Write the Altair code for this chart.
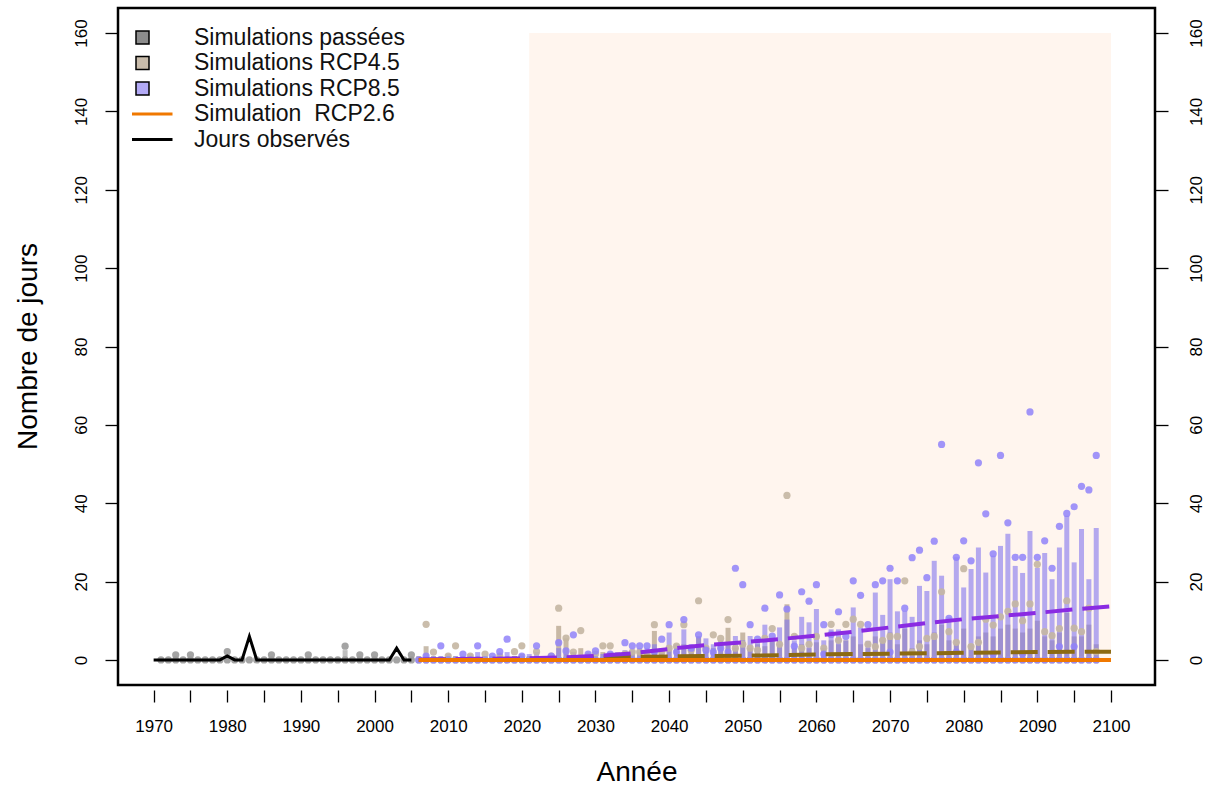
import altair as alt
import pandas as pd

# ---------------- data ----------------
obs_years = list(range(1970, 2006))
obs_vals = [0, 0, 0, 0, 0, 0, 0, 0, 0, 0,
            1, 0, 0, 6, 0, 0, 0, 0, 0, 0,
            0, 0, 0, 0, 0, 0, 0, 0, 0, 0,
            0, 0, 0, 3, 0, 0]

past_years = list(range(1971, 2006))
past_hi = [0.3, 0.3, 0.5, 0.3, 0.5, 0.2, 0.3, 0.2, 0.3, 1.2,
           0.3, 0.2, 0.3, 0.2, 0.3, 0.5, 0.2, 0.3, 0.2, 0.3,
           0.5, 0.2, 0.3, 0.2, 0.3, 2.5, 0.3, 0.8, 0.3, 0.8,
           0.3, 0.2, 0.3, 0.2, 0.5]
past_dot = [None, None, 1.3, None, 1.3, None, None, None, None, 2.1,
            None, None, None, None, None, 1.3, None, None, None, None,
            1.3, None, None, None, None, 3.5, None, 1.3, None, 1.3,
            None, None, None, None, 1.3]

fut_years = list(range(2006, 2099))
rcp85_hi = [0.5, 1.0, 0.5, 1.0, 1.5, 0.5, 1.0, 1.5, 2.0, 1.0,
            1.0, 1.5, 2.0, 1.0, 1.0, 1.5, 2.0, 1.0, 1.0, 3.0,
            1.5, 2.0, 1.0, 1.0, 1.5, 1.5, 2.0, 2.0, 2.5, 2.5,
            3.0, 3.0, 4.0, 3.0, 7.0, 4.0, 7.8, 4.0, 6.0, 5.5,
            4.0, 5.0, 4.5, 6.1, 5.0, 6.1, 5.0, 9.0, 5.5, 8.3,
            10.3, 5.0, 11.0, 9.6, 13.0, 5.0, 7.8, 7.8, 5.0, 13.4,
            8.3, 4.9, 17.2, 11.5, 20.6, 12.4, 12.5, 11.0, 18.9, 17.6,
            25.3, 21.5, 10.9, 26.2, 18.5, 23.2, 28.7, 22.3, 26.6, 29.1,
            32.2, 24.0, 22.2, 32.9, 23.5, 27.3, 20.6, 28.7, 36.8, 24.9,
            33.4, 20.6, 33.7]
rcp45_hi = [1.0, 3.5, 1.0, 0.5, 1.0, 1.0, 0.5, 1.0, 0.5, 1.0,
            0.5, 1.0, 0.5, 1.0, 1.5, 1.0, 1.0, 0.5, 1.0, 8.7,
            5.5, 2.0, 3.0, 1.0, 1.0, 2.0, 2.0, 1.5, 1.0, 1.5,
            2.0, 2.0, 7.4, 2.0, 2.5, 3.0, 4.0, 3.0, 6.0, 3.0,
            3.0, 4.0, 8.2, 3.0, 7.0, 3.0, 4.0, 3.5, 5.0, 4.0,
            14.2, 3.0, 4.0, 3.0, 4.5, 3.0, 5.0, 4.0, 5.0, 6.0,
            4.0, 3.0, 6.0, 5.0, 7.0, 4.0, 8.0, 3.0, 5.0, 4.0,
            7.0, 9.0, 5.0, 4.0, 8.0, 4.0, 6.0, 7.0, 6.0, 8.0,
            9.0, 8.0, 7.0, 8.0, 10.0, 6.0, 5.0, 7.0, 12.0, 6.0,
            6.0, 9.0, 4.0]
rcp85_dot = [None, 1.0, None, 3.6, None, None, 1.5, None, 3.6, None,
             1.0, 2.1, 5.3, None, 1.0, None, 3.6, None, 1.0, 4.4,
             2.3, 6.4, None, 1.5, 2.3, None, 1.5, None, 4.4, 3.6,
             3.6, 3.6, 2.0, 5.3, 9.0, 2.0, 10.3, 3.0, 6.4, 2.5,
             2.0, 3.0, 2.0, 23.4, 19.2, 9.0, 5.3, 13.2, 6.1, 16.6,
             13.0, 3.5, 17.4, 15.0, 19.2, 9.0, 6.5, 12.3, 6.0, 20.2,
             16.5, 9.0, 19.2, 20.2, 23.4, 20.2, 13.2, 26.1, 28.0, 21.0,
             30.3, 55.0, 10.6, 26.2, 30.4, 25.3, 50.3, 37.3, 27.1, 52.2,
             35.0, 26.2, 26.2, 63.3, 26.2, 30.4, 23.4, 34.1, 37.4, 39.1,
             44.3, 43.4, 52.2]
rcp85_low_years = [2061, 2070, 2079, 2084, 2088, 2093, 2095]
rcp85_low_vals = [1.5, 2.0, 2.0, 1.5, 1.5, 3.4, 3.4]
rcp45_dot = [None, 9.1, 2.0, None, 1.0, 3.6, None, 1.0, None, 1.5,
             None, 1.0, None, 2.1, 3.6, None, 2.1, None, 1.0, 13.2,
             5.6, 2.0, 7.5, 1.0, 1.5, 3.6, 3.6, 1.0, 1.5, 2.0,
             2.0, 1.5, 9.0, 2.0, 3.0, 3.5, 9.0, 2.5, 15.1, 3.0,
             6.4, 5.5, 10.3, 3.0, 4.0, 3.0, 2.5, 5.5, 8.0, 4.0,
             42.0, 6.0, 3.0, 4.0, 6.0, 3.0, 9.1, 5.0, 9.1, 10.4,
             9.1, 4.0, 3.4, 5.0, 6.0, 6.0, 20.2, 2.0, 3.4, 5.5,
             6.0, 17.4, 7.2, 4.5, 23.3, 3.4, 4.5, 10.4, 8.9, 11.0,
             12.4, 14.3, 10.0, 14.3, 24.4, 7.2, 6.2, 8.0, 15.1, 8.1,
             7.2, 13.2, 2.1]

med_years = [2006, 2010, 2015, 2020, 2025, 2030, 2035, 2040, 2045, 2050,
             2055, 2060, 2065, 2070, 2075, 2080, 2085, 2090, 2095, 2100]
med85 = [0.1, 0.2, 0.3, 0.4, 0.6, 1.0, 1.7, 2.8, 3.8, 4.5,
         5.3, 6.2, 7.2, 8.3, 9.4, 10.4, 11.2, 12.0, 12.9, 13.7]
med45 = [0.0, 0.1, 0.2, 0.3, 0.4, 0.6, 0.8, 0.9, 1.0, 1.1,
         1.2, 1.4, 1.5, 1.6, 1.7, 1.8, 1.9, 2.0, 2.1, 2.1]

rcp26_years = [2006, 2100]
rcp26_vals = [0, 0]

shade_start, shade_end = 2021, 2100
shade_low, shade_high = 0, 160

series = ["Simulations passées", "Simulations RCP4.5", "Simulations RCP8.5",
          "Simulation\u00a0 RCP2.6", "Jours observés"]
series_fill = ["#8C8C8C", "#C9BCAB", "#B3AAF6", "#F07800", "#000000"]
series_stroke = ["#000000", "#000000", "#000000", "#F07800", "#000000"]
square_path = "M-1,-1H1V1H-1Z"
line_path = "M-1.5,-0.12H4.5V0.12H-1.5Z"
series_shape = [square_path, square_path, square_path, line_path, line_path]

y_ticks = [0, 20, 40, 60, 80, 100, 120, 140, 160]
x_ticks = list(range(1970, 2101, 5))

# ---------------- tables ----------------
obs_df = pd.DataFrame({"year": obs_years, "v": obs_vals})
past_bar = pd.DataFrame({"year": past_years, "lo": 0.0, "hi": past_hi})
fut_bar85 = pd.DataFrame({"year": fut_years, "lo": 0.0, "hi": rcp85_hi})
fut_bar45 = pd.DataFrame({"year": fut_years, "lo": 0.0, "hi": rcp45_hi})


def dots(years, vals):
    rows = [{"year": y, "v": 0.0} for y in years]
    rows += [{"year": y, "v": v} for y, v in zip(years, vals) if v is not None]
    return pd.DataFrame(rows)


past_dots = dots(past_years, past_dot)
dots85 = pd.concat([dots(fut_years, rcp85_dot),
                    pd.DataFrame({"year": rcp85_low_years, "v": rcp85_low_vals})])
dots45 = dots(fut_years, rcp45_dot)
med85_df = pd.DataFrame({"year": med_years, "v": med85})
med45_df = pd.DataFrame({"year": med_years, "v": med45})
rcp26_df = pd.DataFrame({"year": rcp26_years, "v": rcp26_vals})
shade_df = pd.DataFrame([{"x0": shade_start, "x1": shade_end, "y0": shade_low, "y1": shade_high}])
legend_df = pd.DataFrame({"serie": series})

# ---------------- scales & axes ----------------
FONT = "Liberation Sans"
xs = alt.Scale(domain=[1965.84, 2105.3], nice=False, zero=False)
ys = alt.Scale(domain=[-6.4, 166.4], nice=False, zero=False)

x_axis = alt.Axis(orient="bottom", values=x_ticks, format="d",
                  labelExpr="datum.value % 10 == 0 ? datum.label : ''",
                  labelOverlap=False, labelFlush=False,
                  tickSize=12, offset=5, tickWidth=1.3, tickColor="black",
                  domain=False, grid=False, labelFontSize=17, labelColor="black",
                  labelPadding=16, labelFont=FONT,
                  title="Année", titleFontSize=28, titleFontWeight="normal",
                  titleColor="black", titleFont=FONT, titleBaseline="middle",
                  titleY=82)
left_axis = alt.Axis(orient="left", values=y_ticks, tickSize=13, tickWidth=1.3,
                     tickColor="black", domain=False, grid=False,
                     labelAngle=270, labelAlign="center", labelBaseline="bottom",
                     labelPadding=15, labelFontSize=17, labelColor="black", labelFont=FONT,
                     title="Nombre de jours", titleFontSize=28, titleFontWeight="normal",
                     titleColor="black", titleFont=FONT, titleAngle=270,
                     titleAlign="center", titleBaseline="middle",
                     titleX=-90, titleY=338)
right_axis = alt.Axis(orient="right", values=y_ticks, tickSize=13, tickWidth=1.3,
                      tickColor="black", domain=False, grid=False,
                      labelAngle=270, labelAlign="center", labelBaseline="top",
                      labelPadding=20, labelFontSize=17, labelColor="black",
                      labelFont=FONT, title=None)

# ---------------- layers ----------------
shade = alt.Chart(shade_df).mark_rect(color="#FFF5EE").encode(
    x=alt.X("x0:Q", scale=xs, axis=None),
    x2="x1:Q",
    y=alt.Y("y0:Q", scale=ys, axis=left_axis),
    y2="y1:Q",
)


def bars(df, color, opacity):
    return alt.Chart(df).mark_bar(size=5, color=color, opacity=opacity).encode(
        x=alt.X("year:Q", scale=xs, axis=None),
        y=alt.Y("lo:Q", scale=ys, axis=None),
        y2="hi:Q",
    )


def pts(df, color, opacity):
    return alt.Chart(df).mark_circle(size=52, color=color, opacity=opacity).encode(
        x=alt.X("year:Q", scale=xs, axis=None),
        y=alt.Y("v:Q", scale=ys, axis=None),
    )


bar_past = bars(past_bar, "#7F7F7F", 0.5)
bar45 = bars(fut_bar45, "#A38F75", 0.6)
bar85 = bars(fut_bar85, "#8275EE", 0.6)
dot_past = pts(past_dots, "#9A9A9A", 0.9)
dot45 = pts(dots45, "#C4B6A2", 0.9)
dot85 = pts(dots85, "#9082F9", 0.85)

line45 = alt.Chart(med45_df).mark_line(color="#8C6A12", strokeWidth=4,
                                        strokeDash=[27, 10]).encode(
    x=alt.X("year:Q", scale=xs, axis=None), y=alt.Y("v:Q", scale=ys, axis=None))
line85 = alt.Chart(med85_df).mark_line(color="#8A2BE2", strokeWidth=4,
                                        strokeDash=[27, 10]).encode(
    x=alt.X("year:Q", scale=xs, axis=None), y=alt.Y("v:Q", scale=ys, axis=None))
line26 = alt.Chart(rcp26_df).mark_line(color="#F07800", strokeWidth=4).encode(
    x=alt.X("year:Q", scale=xs, axis=None), y=alt.Y("v:Q", scale=ys, axis=right_axis))
obs = alt.Chart(obs_df).mark_line(color="black", strokeWidth=3, strokeJoin="miter").encode(
    x=alt.X("year:Q", scale=xs, axis=x_axis), y=alt.Y("v:Q", scale=ys, axis=None))

leg = alt.Legend(title=None, orient="none", legendX=13, legendY=18, padding=0,
                 labelFontSize=23, labelFont=FONT, labelColor="#111111",
                 labelOffset=40, rowPadding=1.5, symbolSize=169,
                 symbolStrokeWidth=1.5, labelLimit=400)
legend_layer = alt.Chart(legend_df).transform_filter("false").mark_point(
    filled=True, opacity=1, strokeWidth=1.5).encode(
    fill=alt.Fill("serie:N", scale=alt.Scale(domain=series, range=series_fill), legend=leg),
    stroke=alt.Stroke("serie:N", scale=alt.Scale(domain=series, range=series_stroke), legend=leg),
    shape=alt.Shape("serie:N", scale=alt.Scale(domain=series, range=series_shape), legend=leg),
)

chart = alt.layer(
    shade, bar_past, bar45, bar85, dot_past, dot45, dot85,
    line45, line85, line26, obs, legend_layer
).resolve_axis(x="independent", y="independent").properties(
    width=1037, height=677,
    padding={"left": 118, "top": 8, "right": 51, "bottom": 102},
    autosize=alt.AutoSizeParams(type="none"),
    background="white",
).configure(font=FONT).configure_view(stroke="black", strokeWidth=2.5)

chart.save("out.html", embed_options={"renderer": "svg", "actions": False})
